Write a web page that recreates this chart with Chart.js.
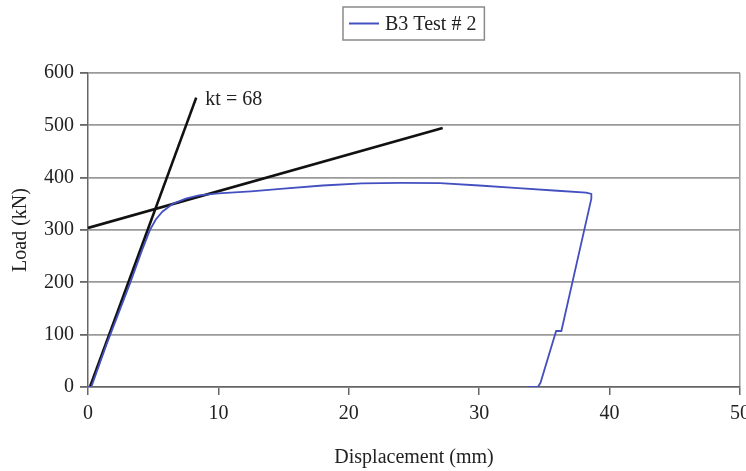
<!DOCTYPE html>
<html>
<head>
<meta charset="utf-8">
<script src="https://cdn.jsdelivr.net/npm/chart.js@4.4.1/dist/chart.umd.min.js"></script>
<style>
  html, body { margin:0; padding:0; background:#fff; }
  #wrap { width:746px; height:471px; }
</style>
</head>
<body>
<div id="wrap"><canvas id="chart" width="746" height="471"></canvas></div>
<script>
// ====== Data (mm, kN) ======
const testX = [0, 0.25, 1.4, 3.25, 4.2, 4.75, 5.2, 5.7, 6.5, 7.5, 8.5, 10, 12.5, 15, 18, 21, 24, 27, 30, 33, 36, 38.2, 38.6, 38.6, 36.3, 35.9, 34.7, 34.5, 33.7];
const testY = [0, 0,    80,  200,  265, 300,  320, 335, 350, 360, 366, 370, 374, 379, 385, 389, 390, 389.5, 385, 380, 375, 371.5, 369, 360, 107, 107, 8, 0, 0];

const ktX = [0.15, 8.3];      // initial stiffness line
const ktY = [0, 553];
const postX = [0, 27.2];      // post-yield line
const postY = [304, 495];

const xTicks = [0, 10, 20, 30, 40, 50];
const yTicks = [0, 100, 200, 300, 400, 500, 600];

const seriesLabel = 'B3 Test # 2';
const noteText = 'kt = 68';
const notePos = { x: 9.0, y: 549 };

const FONT = "'Liberation Serif', 'Times New Roman', serif";
const TXT = '#222';
const GRID = '#9a9a9a';

const pts = (xs, ys) => xs.map((x, i) => ({ x, y: ys[i] }));

// ====== Plugins ======
const boxLegend = {
  id: 'boxLegend',
  afterDraw(chart) {
    const ctx = chart.ctx, ds = chart.data.datasets[0];
    const area = chart.chartArea;
    ctx.save();
    ctx.font = `20px ${FONT}`;
    const tw = ctx.measureText(ds.label).width;
    const w = tw + 50, h = 33;
    const x0 = Math.round((area.left + area.right) / 2 - w / 2), y0 = 7;
    ctx.strokeStyle = '#8a8a8a';
    ctx.lineWidth = 1.5;
    ctx.strokeRect(x0, y0, w, h);
    ctx.strokeStyle = ds.borderColor;
    ctx.lineWidth = 2;
    ctx.beginPath();
    ctx.moveTo(x0 + 6, y0 + h / 2);
    ctx.lineTo(x0 + 36, y0 + h / 2);
    ctx.stroke();
    ctx.fillStyle = TXT;
    ctx.textBaseline = 'middle';
    ctx.fillText(ds.label, x0 + 42, y0 + h / 2 + 1);
    ctx.restore();
  }
};

const note = {
  id: 'note',
  afterDatasetsDraw(chart) {
    const { ctx, scales: { x, y } } = chart;
    ctx.save();
    ctx.font = `20px ${FONT}`;
    ctx.fillStyle = TXT;
    ctx.textBaseline = 'middle';
    ctx.fillText(noteText, x.getPixelForValue(notePos.x), y.getPixelForValue(notePos.y));
    ctx.restore();
  }
};

// ====== Chart ======
new Chart(document.getElementById('chart'), {
  type: 'scatter',
  data: {
    datasets: [
      { label: seriesLabel, data: pts(testX, testY), showLine: true, borderColor: '#4450c0', borderWidth: 1.8, pointRadius: 0, tension: 0 },
      { label: 'kt', data: pts(ktX, ktY), showLine: true, borderColor: '#111', borderWidth: 2.6, pointRadius: 0 },
      { label: 'post', data: pts(postX, postY), showLine: true, borderColor: '#111', borderWidth: 2.6, pointRadius: 0 }
    ]
  },
  options: {
    responsive: false,
    animation: false,
    layout: { padding: { top: 73, right: 6, left: 0, bottom: 0 } },
    plugins: { legend: { display: false }, tooltip: { enabled: false } },
    scales: {
      x: {
        type: 'linear', min: 0, max: 50,
        afterBuildTicks: s => { s.ticks = xTicks.map(v => ({ value: v })); },
        afterFit: s => { s.height = 84; s.paddingLeft = 0; s.paddingRight = 0; },
        grid: {
          drawOnChartArea: true,
          color: c => (c.tick && c.tick.value === 50) ? GRID : 'rgba(0,0,0,0)',
          lineWidth: 1.5,
          tickColor: '#666', tickLength: 8
        },
        border: { color: '#666', width: 1.5 },
        ticks: { color: TXT, font: { family: FONT, size: 20 }, padding: 7, maxRotation: 0 },
        title: { display: true, text: 'Displacement (mm)', color: TXT, font: { family: FONT, size: 20 }, padding: { top: 0, bottom: 1 } }
      },
      y: {
        type: 'linear', min: 0, max: 600,
        afterBuildTicks: s => { s.ticks = yTicks.map(v => ({ value: v })); },
        afterFit: s => { s.width = 88; },
        grid: { color: GRID, lineWidth: 1.8, tickColor: '#666', tickLength: 8 },
        border: { color: '#666', width: 1.5 },
        ticks: { color: TXT, font: { family: FONT, size: 20 }, padding: 6 },
        title: { display: true, text: 'Load (kN)', color: TXT, font: { family: FONT, size: 20 }, padding: { top: 9, bottom: 0 } }
      }
    }
  },
  plugins: [boxLegend, note]
});
</script>
</body>
</html>
